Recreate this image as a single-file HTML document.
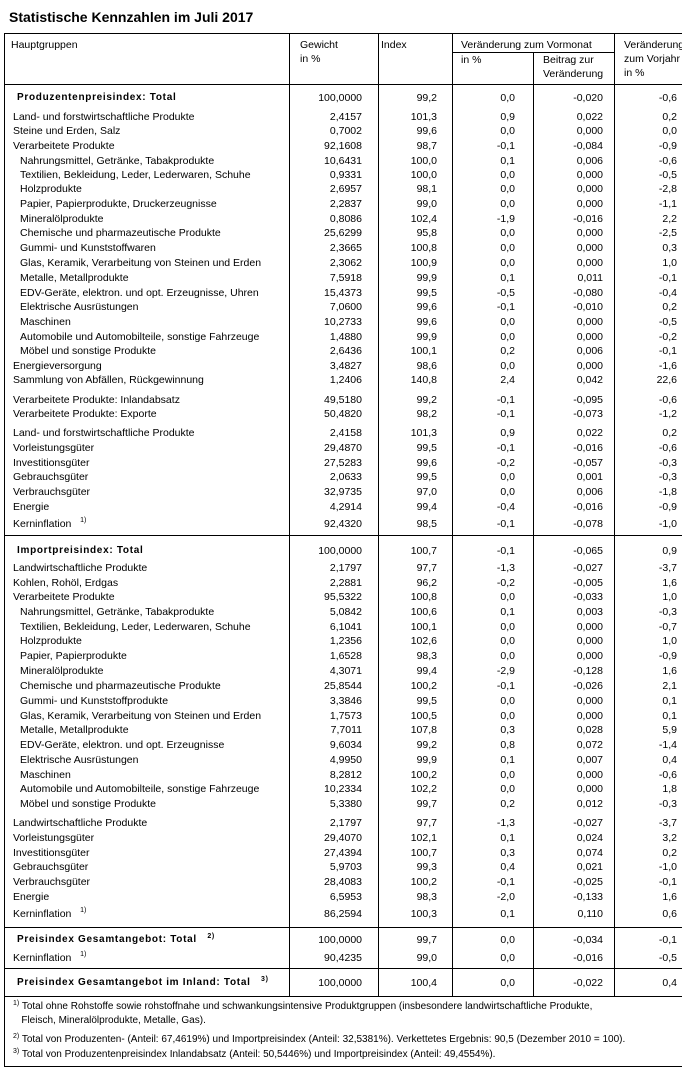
<!DOCTYPE html>
<html><head><meta charset="utf-8"><style>
body{margin:0;width:682px;height:1069px;background:#fff;position:relative;overflow:hidden;font-family:"Liberation Sans",Arial,sans-serif;font-size:10.5px;color:#000}
.t{position:absolute;left:9px;top:9px;font-size:14px;font-weight:bold}
.h{position:absolute;height:1px;background:#000}
.v{position:absolute;width:1px;background:#000}
.r{position:absolute;left:0;width:682px;height:14px;line-height:14px}
.r u{position:absolute;left:13px;text-decoration:none;white-space:nowrap}
.r u.i{left:20px}
.r u.b{left:17px;font-weight:bold;letter-spacing:0.7px;font-size:10px}
.r span{position:absolute;text-align:right;width:70px}
.r span:nth-of-type(1){left:292px}
.r span:nth-of-type(2){left:367px}
.r span:nth-of-type(3){left:445px}
.r span:nth-of-type(4){left:533px}
.r span:nth-of-type(5){left:607px}
sup{font-size:7px;vertical-align:top;line-height:8px}
.hd{position:absolute;line-height:14px;white-space:nowrap}
.f{position:absolute;left:13px;white-space:nowrap;line-height:14px}
</style></head><body>
<div class="t">Statistische Kennzahlen im Juli 2017</div>
<div class="h" style="left:4px;top:33px;width:678px"></div>
<div class="h" style="left:452px;top:52px;width:162px"></div>
<div class="h" style="left:4px;top:84px;width:678px"></div>
<div class="h" style="left:4px;top:535px;width:678px"></div>
<div class="h" style="left:4px;top:927px;width:678px"></div>
<div class="h" style="left:4px;top:968px;width:678px"></div>
<div class="h" style="left:4px;top:996px;width:678px"></div>
<div class="h" style="left:4px;top:1066px;width:678px"></div>
<div class="v" style="left:4px;top:33px;height:1034px"></div>
<div class="v" style="left:289px;top:33px;height:963px"></div>
<div class="v" style="left:378px;top:33px;height:963px"></div>
<div class="v" style="left:452px;top:33px;height:963px"></div>
<div class="v" style="left:533px;top:52px;height:944px"></div>
<div class="v" style="left:614px;top:33px;height:963px"></div>
<div class="hd" style="left:11px;top:38px">Hauptgruppen</div>
<div class="hd" style="left:300px;top:38px">Gewicht<br>in %</div>
<div class="hd" style="left:381px;top:38px">Index</div>
<div class="hd" style="left:461px;top:38px">Veränderung zum Vormonat</div>
<div class="hd" style="left:461px;top:53px">in %</div>
<div class="hd" style="left:543px;top:53px">Beitrag zur<br>Veränderung</div>
<div class="hd" style="left:624px;top:38px">Veränderung<br>zum Vorjahr<br>in %</div>

<div class="r" style="top:91px"><u class="b">Produzentenpreisindex: Total</u><span>100,0000</span><span>99,2</span><span>0,0</span><span>-0,020</span><span>-0,6</span></div>
<div class="r" style="top:110px"><u>Land- und forstwirtschaftliche Produkte</u><span>2,4157</span><span>101,3</span><span>0,9</span><span>0,022</span><span>0,2</span></div>
<div class="r" style="top:124px"><u>Steine und Erden, Salz</u><span>0,7002</span><span>99,6</span><span>0,0</span><span>0,000</span><span>0,0</span></div>
<div class="r" style="top:139px"><u>Verarbeitete Produkte</u><span>92,1608</span><span>98,7</span><span>-0,1</span><span>-0,084</span><span>-0,9</span></div>
<div class="r" style="top:154px"><u class="i">Nahrungsmittel, Getränke, Tabakprodukte</u><span>10,6431</span><span>100,0</span><span>0,1</span><span>0,006</span><span>-0,6</span></div>
<div class="r" style="top:168px"><u class="i">Textilien, Bekleidung, Leder, Lederwaren, Schuhe</u><span>0,9331</span><span>100,0</span><span>0,0</span><span>0,000</span><span>-0,5</span></div>
<div class="r" style="top:182px"><u class="i">Holzprodukte</u><span>2,6957</span><span>98,1</span><span>0,0</span><span>0,000</span><span>-2,8</span></div>
<div class="r" style="top:197px"><u class="i">Papier, Papierprodukte, Druckerzeugnisse</u><span>2,2837</span><span>99,0</span><span>0,0</span><span>0,000</span><span>-1,1</span></div>
<div class="r" style="top:212px"><u class="i">Mineralölprodukte</u><span>0,8086</span><span>102,4</span><span>-1,9</span><span>-0,016</span><span>2,2</span></div>
<div class="r" style="top:226px"><u class="i">Chemische und pharmazeutische Produkte</u><span>25,6299</span><span>95,8</span><span>0,0</span><span>0,000</span><span>-2,5</span></div>
<div class="r" style="top:241px"><u class="i">Gummi- und Kunststoffwaren</u><span>2,3665</span><span>100,8</span><span>0,0</span><span>0,000</span><span>0,3</span></div>
<div class="r" style="top:256px"><u class="i">Glas, Keramik, Verarbeitung von Steinen und Erden</u><span>2,3062</span><span>100,9</span><span>0,0</span><span>0,000</span><span>1,0</span></div>
<div class="r" style="top:271px"><u class="i">Metalle, Metallprodukte</u><span>7,5918</span><span>99,9</span><span>0,1</span><span>0,011</span><span>-0,1</span></div>
<div class="r" style="top:286px"><u class="i">EDV-Geräte, elektron. und opt. Erzeugnisse, Uhren</u><span>15,4373</span><span>99,5</span><span>-0,5</span><span>-0,080</span><span>-0,4</span></div>
<div class="r" style="top:300px"><u class="i">Elektrische Ausrüstungen</u><span>7,0600</span><span>99,6</span><span>-0,1</span><span>-0,010</span><span>0,2</span></div>
<div class="r" style="top:315px"><u class="i">Maschinen</u><span>10,2733</span><span>99,6</span><span>0,0</span><span>0,000</span><span>-0,5</span></div>
<div class="r" style="top:330px"><u class="i">Automobile und Automobilteile, sonstige Fahrzeuge</u><span>1,4880</span><span>99,9</span><span>0,0</span><span>0,000</span><span>-0,2</span></div>
<div class="r" style="top:344px"><u class="i">Möbel und sonstige Produkte</u><span>2,6436</span><span>100,1</span><span>0,2</span><span>0,006</span><span>-0,1</span></div>
<div class="r" style="top:359px"><u>Energieversorgung</u><span>3,4827</span><span>98,6</span><span>0,0</span><span>0,000</span><span>-1,6</span></div>
<div class="r" style="top:373px"><u>Sammlung von Abfällen, Rückgewinnung</u><span>1,2406</span><span>140,8</span><span>2,4</span><span>0,042</span><span>22,6</span></div>
<div class="r" style="top:393px"><u>Verarbeitete Produkte: Inlandabsatz</u><span>49,5180</span><span>99,2</span><span>-0,1</span><span>-0,095</span><span>-0,6</span></div>
<div class="r" style="top:407px"><u>Verarbeitete Produkte: Exporte</u><span>50,4820</span><span>98,2</span><span>-0,1</span><span>-0,073</span><span>-1,2</span></div>
<div class="r" style="top:426px"><u>Land- und forstwirtschaftliche Produkte</u><span>2,4158</span><span>101,3</span><span>0,9</span><span>0,022</span><span>0,2</span></div>
<div class="r" style="top:441px"><u>Vorleistungsgüter</u><span>29,4870</span><span>99,5</span><span>-0,1</span><span>-0,016</span><span>-0,6</span></div>
<div class="r" style="top:456px"><u>Investitionsgüter</u><span>27,5283</span><span>99,6</span><span>-0,2</span><span>-0,057</span><span>-0,3</span></div>
<div class="r" style="top:470px"><u>Gebrauchsgüter</u><span>2,0633</span><span>99,5</span><span>0,0</span><span>0,001</span><span>-0,3</span></div>
<div class="r" style="top:485px"><u>Verbrauchsgüter</u><span>32,9735</span><span>97,0</span><span>0,0</span><span>0,006</span><span>-1,8</span></div>
<div class="r" style="top:500px"><u>Energie</u><span>4,2914</span><span>99,4</span><span>-0,4</span><span>-0,016</span><span>-0,9</span></div>
<div class="r" style="top:517px"><u>Kerninflation &nbsp;&nbsp;<sup>1)</sup></u><span>92,4320</span><span>98,5</span><span>-0,1</span><span>-0,078</span><span>-1,0</span></div>

<div class="r" style="top:544px"><u class="b">Importpreisindex: Total</u><span>100,0000</span><span>100,7</span><span>-0,1</span><span>-0,065</span><span>0,9</span></div>
<div class="r" style="top:561px"><u>Landwirtschaftliche Produkte</u><span>2,1797</span><span>97,7</span><span>-1,3</span><span>-0,027</span><span>-3,7</span></div>
<div class="r" style="top:576px"><u>Kohlen, Rohöl, Erdgas</u><span>2,2881</span><span>96,2</span><span>-0,2</span><span>-0,005</span><span>1,6</span></div>
<div class="r" style="top:590px"><u>Verarbeitete Produkte</u><span>95,5322</span><span>100,8</span><span>0,0</span><span>-0,033</span><span>1,0</span></div>
<div class="r" style="top:605px"><u class="i">Nahrungsmittel, Getränke, Tabakprodukte</u><span>5,0842</span><span>100,6</span><span>0,1</span><span>0,003</span><span>-0,3</span></div>
<div class="r" style="top:620px"><u class="i">Textilien, Bekleidung, Leder, Lederwaren, Schuhe</u><span>6,1041</span><span>100,1</span><span>0,0</span><span>0,000</span><span>-0,7</span></div>
<div class="r" style="top:634px"><u class="i">Holzprodukte</u><span>1,2356</span><span>102,6</span><span>0,0</span><span>0,000</span><span>1,0</span></div>
<div class="r" style="top:649px"><u class="i">Papier, Papierprodukte</u><span>1,6528</span><span>98,3</span><span>0,0</span><span>0,000</span><span>-0,9</span></div>
<div class="r" style="top:664px"><u class="i">Mineralölprodukte</u><span>4,3071</span><span>99,4</span><span>-2,9</span><span>-0,128</span><span>1,6</span></div>
<div class="r" style="top:679px"><u class="i">Chemische und pharmazeutische Produkte</u><span>25,8544</span><span>100,2</span><span>-0,1</span><span>-0,026</span><span>2,1</span></div>
<div class="r" style="top:694px"><u class="i">Gummi- und Kunststoffprodukte</u><span>3,3846</span><span>99,5</span><span>0,0</span><span>0,000</span><span>0,1</span></div>
<div class="r" style="top:709px"><u class="i">Glas, Keramik, Verarbeitung von Steinen und Erden</u><span>1,7573</span><span>100,5</span><span>0,0</span><span>0,000</span><span>0,1</span></div>
<div class="r" style="top:723px"><u class="i">Metalle, Metallprodukte</u><span>7,7011</span><span>107,8</span><span>0,3</span><span>0,028</span><span>5,9</span></div>
<div class="r" style="top:738px"><u class="i">EDV-Geräte, elektron. und opt. Erzeugnisse</u><span>9,6034</span><span>99,2</span><span>0,8</span><span>0,072</span><span>-1,4</span></div>
<div class="r" style="top:753px"><u class="i">Elektrische Ausrüstungen</u><span>4,9950</span><span>99,9</span><span>0,1</span><span>0,007</span><span>0,4</span></div>
<div class="r" style="top:768px"><u class="i">Maschinen</u><span>8,2812</span><span>100,2</span><span>0,0</span><span>0,000</span><span>-0,6</span></div>
<div class="r" style="top:782px"><u class="i">Automobile und Automobilteile, sonstige Fahrzeuge</u><span>10,2334</span><span>102,2</span><span>0,0</span><span>0,000</span><span>1,8</span></div>
<div class="r" style="top:797px"><u class="i">Möbel und sonstige Produkte</u><span>5,3380</span><span>99,7</span><span>0,2</span><span>0,012</span><span>-0,3</span></div>
<div class="r" style="top:816px"><u>Landwirtschaftliche Produkte</u><span>2,1797</span><span>97,7</span><span>-1,3</span><span>-0,027</span><span>-3,7</span></div>
<div class="r" style="top:831px"><u>Vorleistungsgüter</u><span>29,4070</span><span>102,1</span><span>0,1</span><span>0,024</span><span>3,2</span></div>
<div class="r" style="top:846px"><u>Investitionsgüter</u><span>27,4394</span><span>100,7</span><span>0,3</span><span>0,074</span><span>0,2</span></div>
<div class="r" style="top:860px"><u>Gebrauchsgüter</u><span>5,9703</span><span>99,3</span><span>0,4</span><span>0,021</span><span>-1,0</span></div>
<div class="r" style="top:875px"><u>Verbrauchsgüter</u><span>28,4083</span><span>100,2</span><span>-0,1</span><span>-0,025</span><span>-0,1</span></div>
<div class="r" style="top:890px"><u>Energie</u><span>6,5953</span><span>98,3</span><span>-2,0</span><span>-0,133</span><span>1,6</span></div>
<div class="r" style="top:907px"><u>Kerninflation &nbsp;&nbsp;<sup>1)</sup></u><span>86,2594</span><span>100,3</span><span>0,1</span><span>0,110</span><span>0,6</span></div>

<div class="r" style="top:933px"><u class="b">Preisindex Gesamtangebot: Total &nbsp;&nbsp;<sup>2)</sup></u><span>100,0000</span><span>99,7</span><span>0,0</span><span>-0,034</span><span>-0,1</span></div>
<div class="r" style="top:951px"><u>Kerninflation &nbsp;&nbsp;<sup>1)</sup></u><span>90,4235</span><span>99,0</span><span>0,0</span><span>-0,016</span><span>-0,5</span></div>
<div class="r" style="top:976px"><u class="b">Preisindex Gesamtangebot im Inland: Total &nbsp;&nbsp;<sup>3)</sup></u><span>100,0000</span><span>100,4</span><span>0,0</span><span>-0,022</span><span>0,4</span></div>

<div class="f" style="top:1000px;font-size:10px"><sup>1)</sup> Total ohne Rohstoffe sowie rohstoffnahe und schwankungsintensive Produktgruppen (insbesondere landwirtschaftliche Produkte,<br>&nbsp;&nbsp;&nbsp;Fleisch, Mineralölprodukte, Metalle, Gas).</div>
<div class="f" style="top:1033px;font-size:10px"><sup>2)</sup> Total von Produzenten- (Anteil: 67,4619%) und Importpreisindex (Anteil: 32,5381%). Verkettetes Ergebnis: 90,5 (Dezember 2010 = 100).</div>
<div class="f" style="top:1048px;font-size:10px"><sup>3)</sup> Total von Produzentenpreisindex Inlandabsatz (Anteil: 50,5446%) und Importpreisindex (Anteil: 49,4554%).</div>
</body></html>
